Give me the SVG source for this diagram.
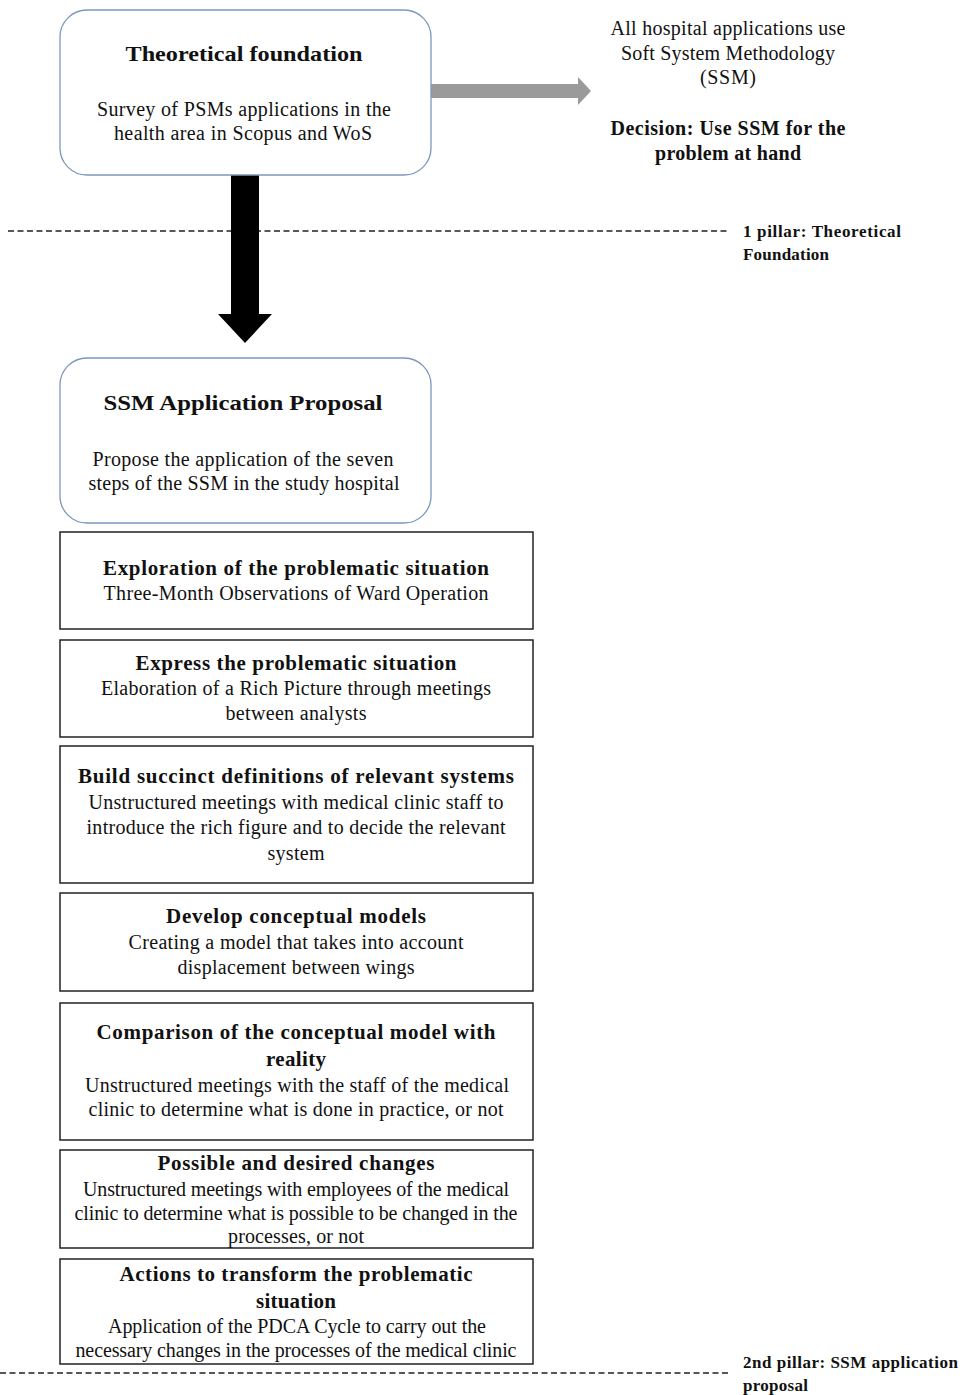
<svg xmlns="http://www.w3.org/2000/svg" width="964" height="1395" viewBox="0 0 964 1395">
<style>
text{font-family:"Liberation Serif","Times New Roman",serif;fill:#111;text-anchor:middle}
.t{font-size:21px;font-weight:bold}
.h{font-size:22px;font-weight:bold}
.b{font-size:20px}
.d{font-size:20px;font-weight:bold}
.p{font-size:17px;font-weight:bold;text-anchor:start}
.rb{fill:#fff;stroke:#7d97bd;stroke-width:1.3}
.sq{fill:#fff;stroke:#222;stroke-width:1.5}
.dash{stroke:#222;stroke-width:1.3;stroke-dasharray:6 3.5;fill:none}
</style>
<rect width="964" height="1395" fill="#fff"/>
<g id="separators">
<line class="dash" x1="8" y1="231" x2="728" y2="231"/>
<line class="dash" x1="0" y1="1373" x2="730" y2="1373"/>
</g>
<g id="connectors">
<polygon fill="#9a9a9a" points="431,84 578,84 578,77 591,91 578,105 578,98 431,98"/>
<polygon fill="#000" points="231,175 259,175 259,314 272,314 245,343 218,314 231,314"/>
</g>
<g id="theoretical-foundation">
<rect class="rb" x="60" y="10" width="371" height="165" rx="27"/>
<text class="h" x="244" y="61" textLength="237" lengthAdjust="spacingAndGlyphs">Theoretical foundation</text>
<text class="b" x="244" y="116" textLength="294" lengthAdjust="spacing">Survey of PSMs applications in the</text>
<text class="b" x="243" y="140" textLength="258" lengthAdjust="spacing">health area in Scopus and WoS</text>
</g>
<g id="result">
<text class="b" x="728" y="35" textLength="235" lengthAdjust="spacing">All hospital applications use</text>
<text class="b" x="728" y="60" textLength="214" lengthAdjust="spacing">Soft System Methodology</text>
<text class="b" x="728" y="84" textLength="56" lengthAdjust="spacing">(SSM)</text>
<text class="d" x="728" y="135" textLength="235" lengthAdjust="spacing">Decision: Use SSM for the</text>
<text class="d" x="728" y="160" textLength="146" lengthAdjust="spacing">problem at hand</text>
</g>
<g id="pillar1">
<text class="p" x="743" y="237" textLength="158" lengthAdjust="spacing">1 pillar: Theoretical</text>
<text class="p" x="743" y="260" textLength="86" lengthAdjust="spacing">Foundation</text>
</g>
<g id="ssm-proposal">
<rect class="rb" x="60" y="358" width="371" height="165" rx="27"/>
<text class="h" x="243" y="410" textLength="279" lengthAdjust="spacingAndGlyphs">SSM Application Proposal</text>
<text class="b" x="243" y="466" textLength="301" lengthAdjust="spacing">Propose the application of the seven</text>
<text class="b" x="244" y="490" textLength="311" lengthAdjust="spacing">steps of the SSM in the study hospital</text>
</g>
<g id="step1">
<rect class="sq" x="60" y="532" width="473" height="97"/>
<text class="t" x="296" y="575" textLength="386" lengthAdjust="spacing">Exploration of the problematic situation</text>
<text class="b" x="296" y="600" textLength="385" lengthAdjust="spacing">Three-Month Observations of Ward Operation</text>
</g>
<g id="step2">
<rect class="sq" x="60" y="640" width="473" height="97"/>
<text class="t" x="296" y="670" textLength="321" lengthAdjust="spacing">Express the problematic situation</text>
<text class="b" x="296" y="695" textLength="390" lengthAdjust="spacing">Elaboration of a Rich Picture through meetings</text>
<text class="b" x="296" y="720" textLength="141" lengthAdjust="spacing">between analysts</text>
</g>
<g id="step3">
<rect class="sq" x="60" y="746" width="473" height="137"/>
<text class="t" x="296" y="783" textLength="436" lengthAdjust="spacing">Build succinct definitions of relevant systems</text>
<text class="b" x="296" y="809" textLength="415" lengthAdjust="spacing">Unstructured meetings with medical clinic staff to</text>
<text class="b" x="296" y="834" textLength="419" lengthAdjust="spacing">introduce the rich figure and to decide the relevant</text>
<text class="b" x="296" y="860" textLength="57" lengthAdjust="spacing">system</text>
</g>
<g id="step4">
<rect class="sq" x="60" y="893" width="473" height="98"/>
<text class="t" x="296" y="923" textLength="260" lengthAdjust="spacing">Develop conceptual models</text>
<text class="b" x="296" y="949" textLength="335" lengthAdjust="spacing">Creating a model that takes into account</text>
<text class="b" x="296" y="974" textLength="237" lengthAdjust="spacing">displacement between wings</text>
</g>
<g id="step5">
<rect class="sq" x="60" y="1003" width="473" height="137"/>
<text class="t" x="296" y="1039" textLength="399" lengthAdjust="spacing">Comparison of the conceptual model with</text>
<text class="t" x="296" y="1066" textLength="60" lengthAdjust="spacing">reality</text>
<text class="b" x="297" y="1092" textLength="424" lengthAdjust="spacing">Unstructured meetings with the staff of the medical</text>
<text class="b" x="296" y="1116" textLength="415" lengthAdjust="spacing">clinic to determine what is done in practice, or not</text>
</g>
<g id="step6">
<rect class="sq" x="60" y="1150" width="473" height="98"/>
<text class="t" x="296" y="1170" textLength="277" lengthAdjust="spacing">Possible and desired changes</text>
<text class="b" x="296" y="1196" textLength="426" lengthAdjust="spacing">Unstructured meetings with employees of the medical</text>
<text class="b" x="296" y="1220" textLength="443" lengthAdjust="spacing">clinic to determine what is possible to be changed in the</text>
<text class="b" x="296" y="1243" textLength="136" lengthAdjust="spacing">processes, or not</text>
</g>
<g id="step7">
<rect class="sq" x="60" y="1259" width="473" height="105"/>
<text class="t" x="296" y="1281" textLength="353" lengthAdjust="spacing">Actions to transform the problematic</text>
<text class="t" x="296" y="1308" textLength="80" lengthAdjust="spacing">situation</text>
<text class="b" x="297" y="1333" textLength="378" lengthAdjust="spacing">Application of the PDCA Cycle to carry out the</text>
<text class="b" x="296" y="1357" textLength="441" lengthAdjust="spacing">necessary changes in the processes of the medical clinic</text>
</g>
<g id="pillar2">
<text class="p" x="743" y="1368" textLength="215" lengthAdjust="spacing">2nd pillar: SSM application</text>
<text class="p" x="743" y="1391" textLength="65" lengthAdjust="spacing">proposal</text>
</g>
</svg>
